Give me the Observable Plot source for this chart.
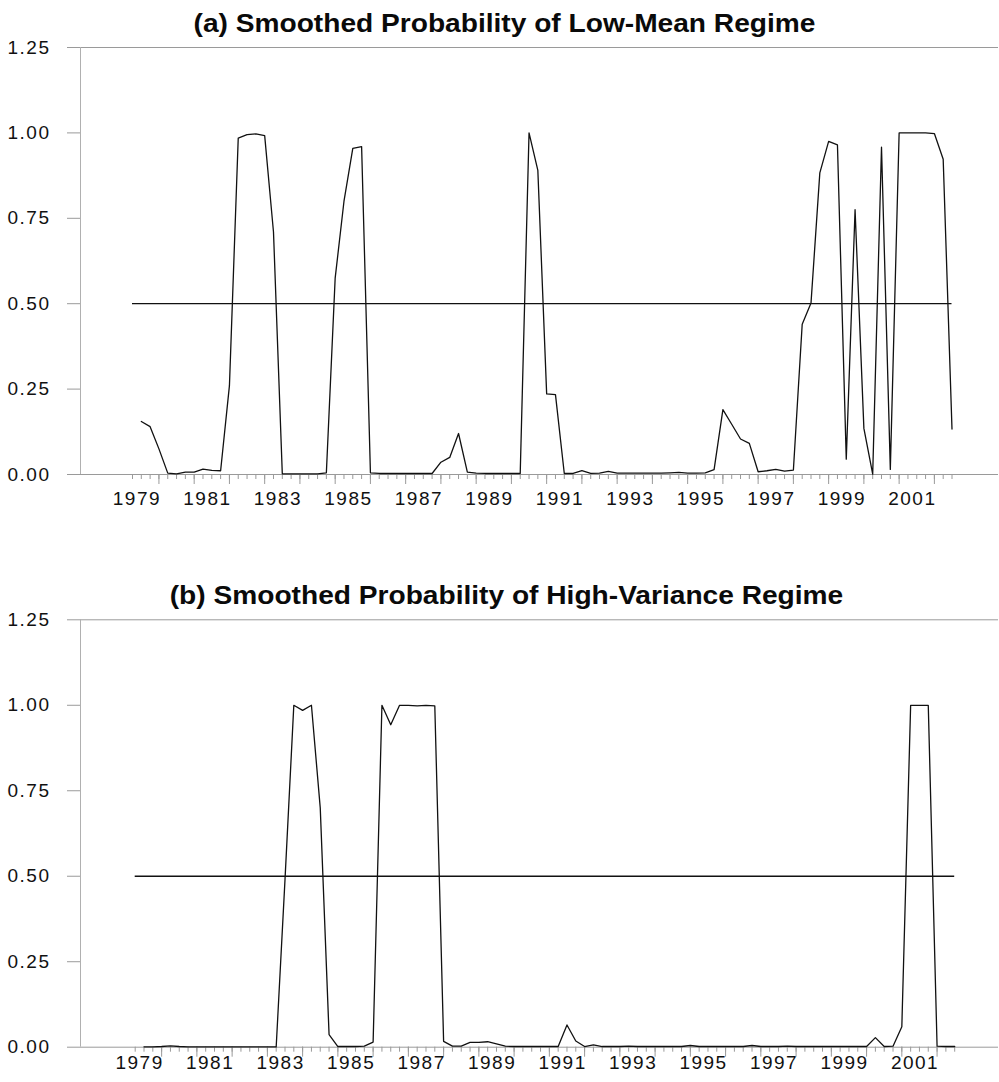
<!DOCTYPE html>
<html>
<head>
<meta charset="utf-8">
<script src="https://cdn.jsdelivr.net/npm/d3@7"></script>
<script src="https://cdn.jsdelivr.net/npm/@observablehq/plot@0.6"></script>
<style>
html, body { margin: 0; padding: 0; background: #fff; overflow: hidden; }
body { width: 999px; height: 1082px; position: relative; font-family: "Liberation Sans", Arial, sans-serif; }
.title { position: absolute; width: 999px; text-align: center; font-weight: bold; font-size: 25px;
  line-height: 30px; color: #0a0a0a; transform: scaleX(1.125); transform-origin: center; white-space: nowrap; }
.panel { position: absolute; left: 0; }
.panel svg text { letter-spacing: 1.5px; }
</style>
</head>
<body>
<div class="title" style="top:8px;left:4.5px">(a) Smoothed Probability of Low-Mean Regime</div>
<div class="panel" id="pa" style="top:40px"></div>
<div class="title" style="top:579.6px;left:7px">(b) Smoothed Probability of High-Variance Regime</div>
<div class="panel" id="pb" style="top:612px"></div>
<script>
// ---- data (quarterly, first value = 1979Q1) ----
const startYear = 1979;
const startQuarter = 1;
const sampleStart = [1978, 4];
const sampleEnd = [2002, 1];
const threshold = 0.5;

const lowMean = [
  0.155, 0.14, 0.075, 0.004, 0.002, 0.007, 0.007, 0.016, 0.012, 0.011,
  0.26, 0.985, 0.995, 0.997, 0.992, 0.71, 0.002, 0.002, 0.002, 0.002,
  0.002, 0.005, 0.575, 0.80, 0.955, 0.96, 0.005, 0.003, 0.003, 0.003,
  0.003, 0.003, 0.003, 0.003, 0.036, 0.05, 0.12, 0.007, 0.004, 0.003,
  0.003, 0.003, 0.003, 0.003, 1.0, 0.89, 0.236, 0.234, 0.003, 0.003,
  0.011, 0.003, 0.004, 0.009, 0.004, 0.004, 0.004, 0.004, 0.004, 0.004,
  0.005, 0.006, 0.004, 0.004, 0.005, 0.014, 0.19, 0.147, 0.104, 0.091,
  0.008, 0.011, 0.015, 0.01, 0.013, 0.44, 0.502, 0.883, 0.975, 0.965,
  0.045, 0.775, 0.135, 0.001, 0.958, 0.015, 1.0, 1.0, 1.0, 1.0,
  0.998, 0.923, 0.133
];

const highVar = [
  0.001, 0.001, 0.002, 0.004, 0.002, 0.001, 0.001, 0.001, 0.001, 0.001,
  0.001, 0.001, 0.001, 0.001, 0.001, 0.001, 0.49, 1.0, 0.985, 1.0,
  0.70, 0.037, 0.002, 0.002, 0.002, 0.003, 0.015, 1.0, 0.943, 1.0,
  1.0, 0.998, 1.0, 0.998, 0.017, 0.003, 0.003, 0.014, 0.014, 0.016,
  0.01, 0.003, 0.002, 0.002, 0.002, 0.002, 0.002, 0.002, 0.065, 0.018,
  0.002, 0.007, 0.002, 0.002, 0.002, 0.003, 0.002, 0.002, 0.002, 0.002,
  0.002, 0.002, 0.005, 0.002, 0.002, 0.002, 0.002, 0.002, 0.002, 0.005,
  0.002, 0.002, 0.002, 0.003, 0.002, 0.002, 0.002, 0.002, 0.002, 0.002,
  0.002, 0.002, 0.002, 0.028, 0.002, 0.003, 0.06, 1.0, 1.0, 1.0,
  0.003, 0.002, 0.002
];

const yTicks = [0, 0.25, 0.5, 0.75, 1.0, 1.25];
const yearLabels = [1979, 1981, 1983, 1985, 1987, 1989, 1991, 1993, 1995, 1997, 1999, 2001];

// ---- helpers ----
const qTime = (y, q) => y + (q - 1) / 4 + 0.125; // mid-quarter
const series = values => values.map((p, i) => {
  const n = (startQuarter - 1) + i;
  return {t: qTime(startYear + Math.floor(n / 4), (n % 4) + 1), p};
});
const t0 = qTime(...sampleStart);
const t1 = qTime(...sampleEnd);
const quarterTicks = d3.range(Math.round((t1 - t0) * 4) + 1).map(i => t0 + i / 4);
const yearTicks = quarterTicks.filter(t => Math.abs(t - Math.floor(t) - 0.625) < 1e-6);
const refLine = [{y: threshold, x1: t0, x2: t1}];

const grey = "#9a9a9a";
const ink = "#111";

const axisLine = (index, scales, values, dims) =>
  d3.create("svg:line")
    .attr("x1", dims.marginLeft + 0.5).attr("x2", dims.marginLeft + 0.5)
    .attr("y1", dims.marginTop).attr("y2", dims.height - dims.marginBottom)
    .attr("stroke", "#b0b0b0").node();

function panel(values, {height, marginTop, marginBottom, xRange, labelDy}) {
  return Plot.plot({
    width: 999, height, marginLeft: 80, marginRight: 1, marginTop, marginBottom,
    x: {domain: [t0, t1], range: xRange, label: null},
    y: {domain: [0, 1.25], label: null},
    style: {fontFamily: '"Liberation Sans", Arial, sans-serif', fontSize: "19px", color: ink, background: "#fff", overflow: "visible"},
    marks: [
      Plot.ruleY([0, 1.25], {stroke: grey}),
      axisLine,
      Plot.axisY({ticks: yTicks, tickSize: 13, tickPadding: 17, tickFormat: d3.format(".2f"), stroke: grey, fill: ink, fontSize: 19}),
      Plot.axisX({ticks: quarterTicks, tickSize: 5, fill: "none", stroke: grey}),
      Plot.axisX({ticks: yearTicks, tickSize: 10, fill: "none", stroke: grey}),
      Plot.text(yearLabels, {x: d => d, text: d => String(d), frameAnchor: "bottom", dy: labelDy, lineAnchor: "bottom", fill: ink, fontSize: 19}),
      Plot.ruleY(refLine, {y: "y", x1: "x1", x2: "x2", stroke: ink, strokeWidth: 1.3}),
      Plot.line(series(values), {x: "t", y: "p", stroke: ink, strokeWidth: 1.3})
    ]
  });
}

document.getElementById("pa").append(
  panel(lowMean, {height: 532, marginTop: 7, marginBottom: 98, xRange: [132, 951.5], labelDy: 30})
);
document.getElementById("pb").append(
  panel(highVar, {height: 470, marginTop: 7.3, marginBottom: 35.3, xRange: [134.7, 954.2], labelDy: 22})
);
</script>
</body>
</html>
